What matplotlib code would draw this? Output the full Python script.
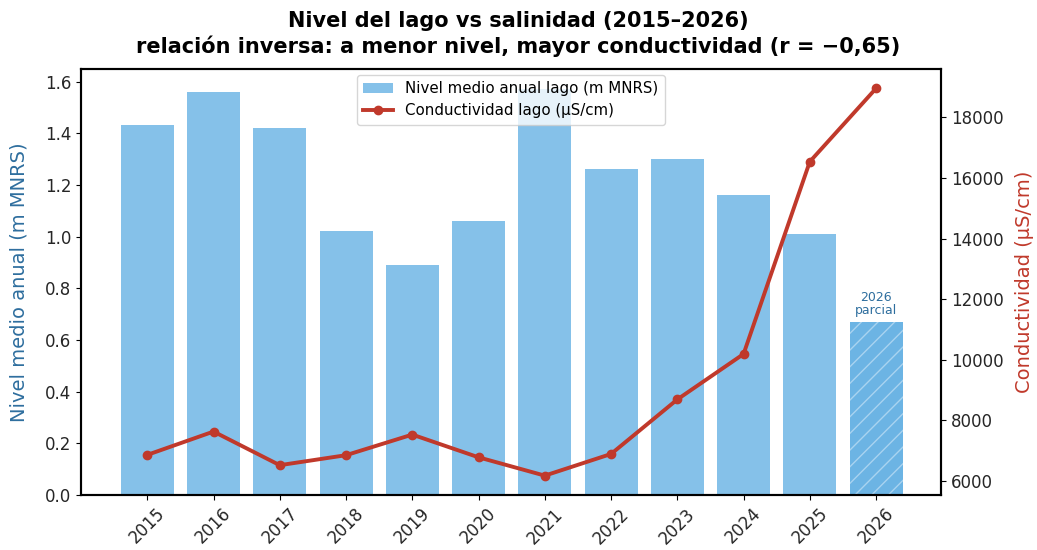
import matplotlib
matplotlib.use("Agg")
import matplotlib.pyplot as plt
import numpy as np

years = ["2015", "2016", "2017", "2018", "2019", "2020", "2021", "2022", "2023", "2024", "2025", "2026"]
nivel = [1.43, 1.56, 1.42, 1.02, 0.89, 1.06, 1.57, 1.26, 1.30, 1.16, 1.01, 0.67]
conductividad = [6860, 7630, 6520, 6850, 7530, 6780, 6175, 6890, 8690, 10190, 16540, 18960]

bar_color = "#85C1E9"
partial_color = "#6CB4E4"
line_color = "#C0392B"
left_label_color = "#2E6E9E"
tick_color = "#262626"

plt.rcParams['hatch.color'] = 'white'
plt.rcParams['hatch.linewidth'] = 1.0

fig = plt.figure(figsize=(10.37, 5.5), dpi=100)
ax1 = fig.add_axes([81/1037, 1 - 495/550, (941-81)/1037, (495-69)/550])
x = np.arange(len(years))

bars = ax1.bar(x[:-1], nivel[:-1], width=0.8, color=bar_color, label="Nivel medio anual lago (m MNRS)")
ax1.bar(x[-1:], nivel[-1:], width=0.8, color=partial_color, hatch="//", edgecolor="#A9D3F0", linewidth=0)
ax1.text(x[-1], nivel[-1] + 0.02, "2026\nparcial", ha="center", va="bottom", fontsize=9, color=left_label_color, linespacing=1.0)

ax1.set_ylabel("Nivel medio anual (m MNRS)", color=left_label_color, fontsize=14, labelpad=12)
ax1.set_xticks(x)
ax1.set_xticklabels(years, rotation=45, fontsize=12)
ax1.tick_params(axis="both", labelsize=12, labelcolor=tick_color)
ax1.set_xlim(-1.0, 11.98)

ax2 = ax1.twinx()
line, = ax2.plot(x, conductividad, color=line_color, linewidth=2.8, marker="o", markersize=6, label="Conductividad lago (µS/cm)")
ax2.set_ylabel("Conductividad (µS/cm)", color=line_color, fontsize=14, labelpad=8)
ax2.tick_params(axis="y", labelsize=12, labelcolor=tick_color)

for ax in (ax1, ax2):
    for s in ax.spines.values():
        s.set_linewidth(1.5)

ax2.legend([bars, line], ["Nivel medio anual lago (m MNRS)", "Conductividad lago (µS/cm)"],
           loc="upper center", fontsize=10.8, framealpha=0.8, borderaxespad=0.4)

fig.suptitle("Nivel del lago vs salinidad (2015–2026)\nrelación inversa: a menor nivel, mayor conductividad (r = −0,65)",
             fontsize=15, fontweight="bold", y=0.98, linespacing=1.25)

fig.savefig("out.png", dpi=100)
